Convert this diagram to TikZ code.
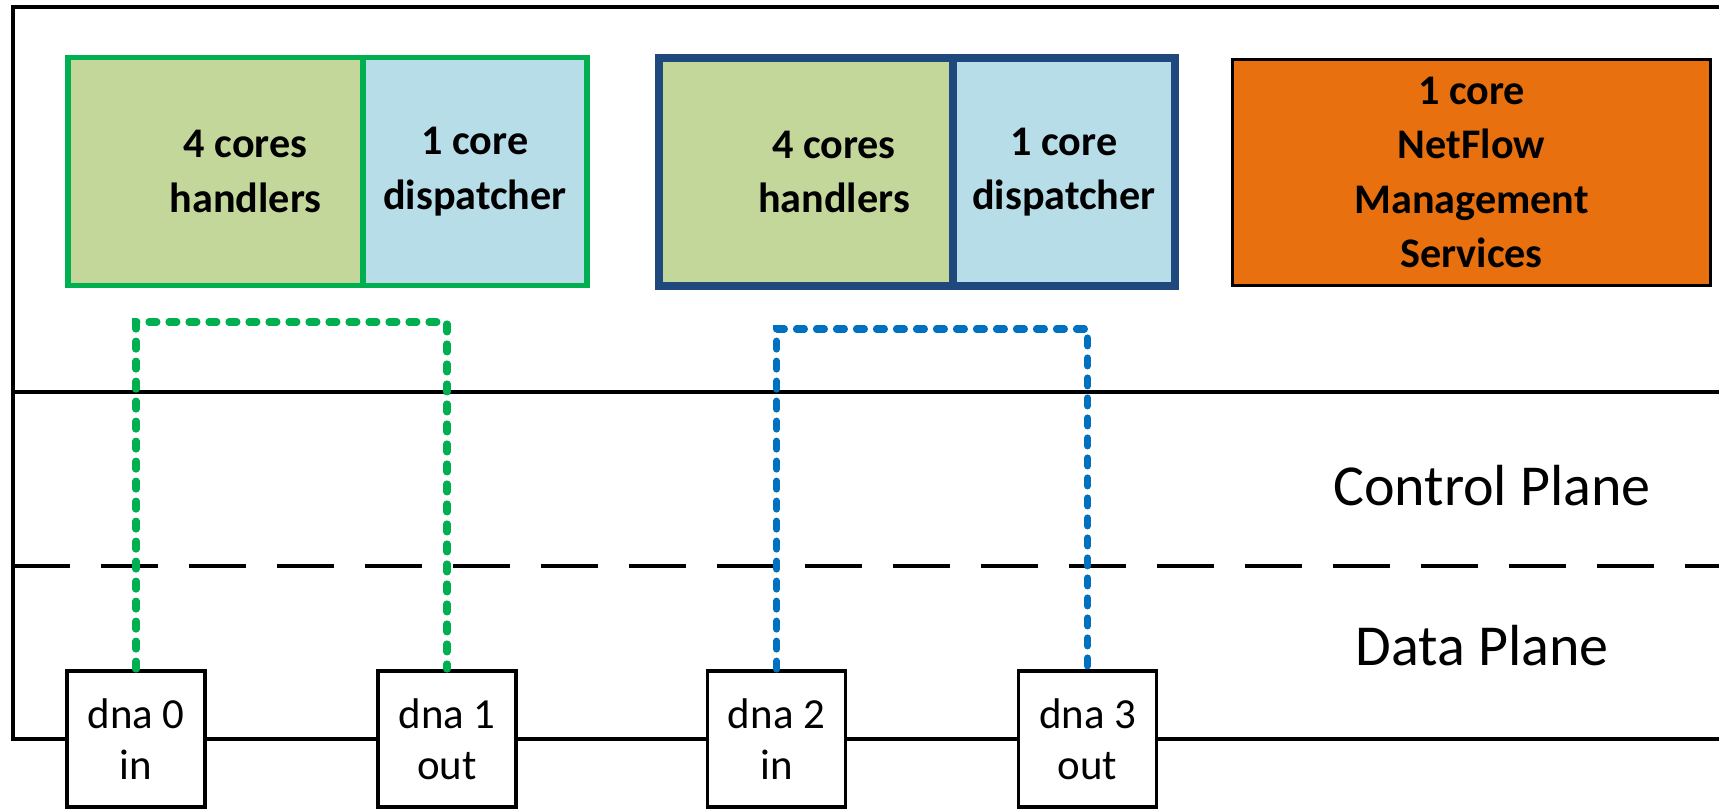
\documentclass[tikz,border=0pt]{standalone}
\usepackage{fontspec}
\setmainfont{Carlito}
\usepackage{xcolor}
\usepackage{tikz}
\usetikzlibrary{positioning,calc}

\definecolor{offgreen}{HTML}{00B050}
\definecolor{handfill}{HTML}{C4D79B}
\definecolor{dispfill}{HTML}{B7DEE8}
\definecolor{navyedge}{HTML}{1F497D}
\definecolor{mgmtorange}{HTML}{E8700E}
\definecolor{linkblue}{HTML}{0070C0}

\begin{document}
\begin{tikzpicture}[x=0.1mm, y=0.1mm,
    frameline/.style={line width=1.1pt, black},
    corebox/.style={minimum height=22.8mm, inner sep=0pt, outer sep=0pt},
    coretext/.style={align=center, font=\fontsize{12}{15.5}\selectfont\bfseries},
    dnabox/.style={draw, fill=white, line width=1.1pt, minimum width=13.8mm, minimum height=13.6mm,
        inner sep=0pt, align=center, font=\fontsize{12.2}{14.5}\selectfont},
    linkdot/.style={line width=2pt, line cap=round, dash pattern=on 0.8mm off 1.2mm},
    planelabel/.style={font=\fontsize{16.5}{20}\selectfont}
]
    \useasboundingbox (0,0) rectangle (1719,809);

    % Frame and plane separators
    \draw[frameline] (1719,802) -- (13,802) -- (13,70) -- (1719,70);
    \draw[frameline] (13,417) -- (1719,417);
    \draw[frameline, dash pattern=on 5.7mm off 3.1mm] (13,243) -- (1719,243);

    % First instance (green)
    \node[corebox, fill=handfill, draw=offgreen, line width=1.5pt, minimum width=29.5mm] (ghnd) at (215.5,637.5) {};
    \node[corebox, fill=dispfill, draw=offgreen, line width=1.5pt, minimum width=22.4mm, coretext, right=0pt of ghnd] (gdsp) {1 core\\dispatcher};
    \node[coretext] (ghndtxt) at ([xshift=3mm]ghnd.center) {4 cores\\handlers};

    % Second instance (blue)
    \node[corebox, fill=handfill, draw=navyedge, line width=2pt, minimum width=29.4mm] (bhnd) at (806,637) {};
    \node[corebox, fill=dispfill, draw=navyedge, line width=2pt, minimum width=22.2mm, coretext, right=0pt of bhnd] (bdsp) {1 core\\dispatcher};
    \node[coretext] (bhndtxt) at ([xshift=2.8mm]bhnd.center) {4 cores\\handlers};

    % Management core
    \node[corebox, coretext, fill=mgmtorange, draw=black, line width=1pt, minimum width=47.8mm, minimum height=22.6mm] (mgmt) at (1471.5,636.5) {1 core\\NetFlow\\Management\\Services};

    % Interfaces
    \node[dnabox] (dna0) at (136,70) {dna 0\\in};
    \node[dnabox] (dna1) at (447,70) {dna 1\\out};
    \node[dnabox] (dna2) at (776.5,70) {dna 2\\in};
    \node[dnabox] (dna3) at (1087.5,70) {dna 3\\out};

    % Links between interfaces
    \coordinate (gturn) at (300,487);
    \coordinate (bturn) at (930,480);
    \draw[linkdot, offgreen] (dna0.north) |- (gturn) -| (dna1.north);
    \draw[linkdot, linkblue] (dna2.north) |- (bturn) -| (dna3.north);

    % Plane labels
    \node[planelabel] (ctrl) at (1492,323) {Control Plane};
    \node[planelabel] (data) at (1482,163) {Data Plane};
\end{tikzpicture}
\end{document}
